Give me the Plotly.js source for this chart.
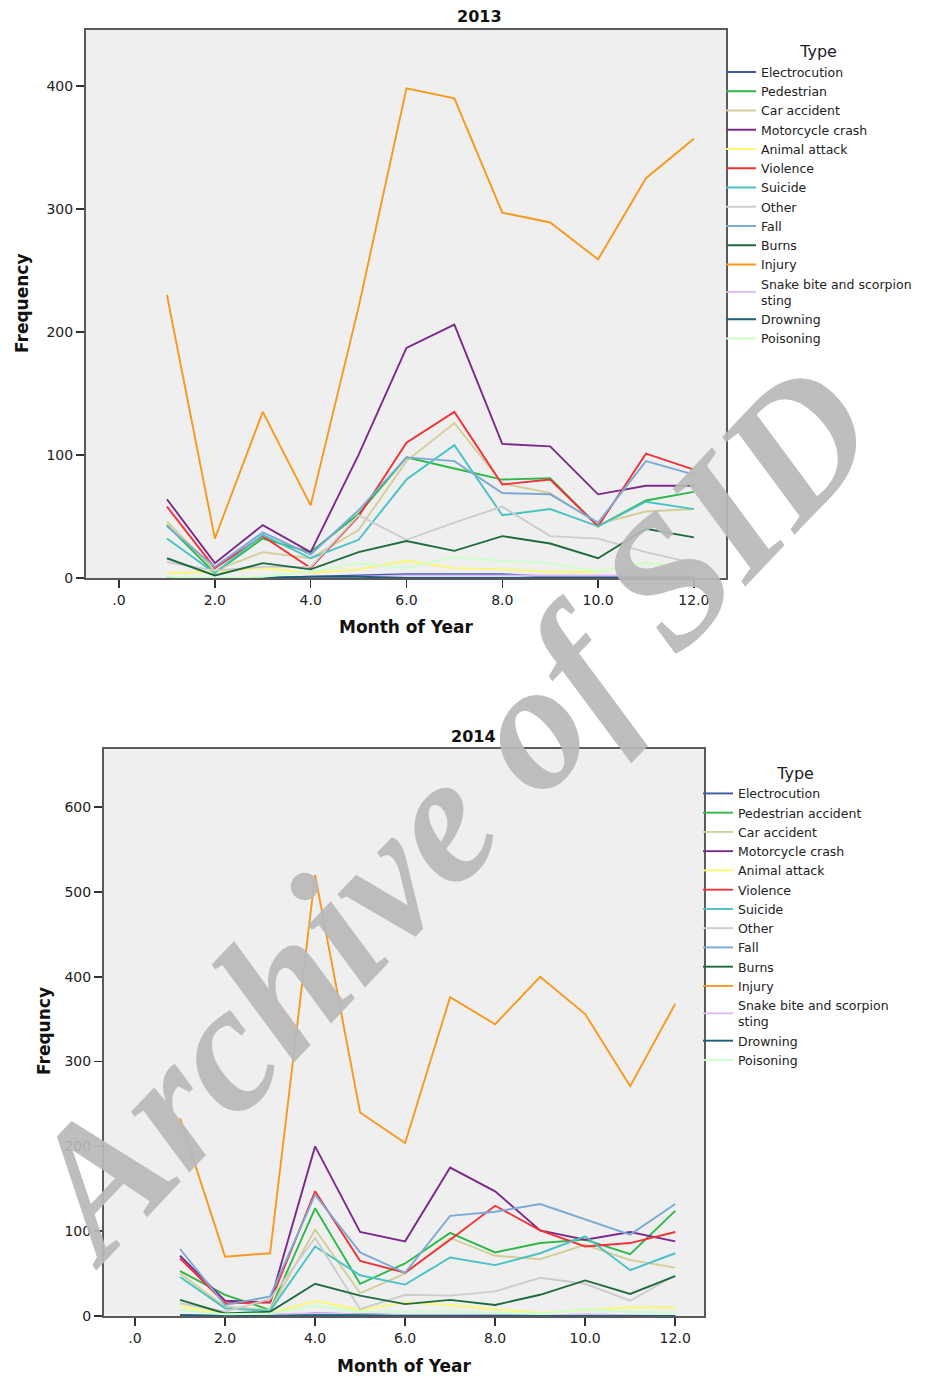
<!DOCTYPE html>
<html>
<head>
<meta charset="utf-8">
<script src="https://cdn.plot.ly/plotly-3.0.1.min.js"></script>
<style>html,body{margin:0;padding:0;background:#fff;} #chart{width:947px;height:1380px;}</style>
</head>
<body>
<div id="chart"></div>
<script>
// ---- categories / labels ----
const months = [1,2,3,4,5,6,7,8,9,10,11,12];
const xTickVals = [0,2,4,6,8,10,12];
const xTickText = [".0","2.0","4.0","6.0","8.0","10.0","12.0"];
const types2013 = ["Electrocution","Pedestrian","Car accident","Motorcycle crash","Animal attack","Violence","Suicide","Other","Fall","Burns","Injury","Snake bite and scorpion<br>sting","Drowning","Poisoning"];
const types2014 = ["Electrocution","Pedestrian accident","Car accident","Motorcycle crash","Animal attack","Violence","Suicide","Other","Fall","Burns","Injury","Snake bite and scorpion<br>sting","Drowning","Poisoning"];
const typeColors = ["#3e58ac","#2eb848","#d3ce97","#7c2a8a","#fbf873","#ef3338","#48c2c5","#cccccc","#7aaad5","#1e6b3e","#f8981d","#ddbaf1","#1a5f76","#ccffcc"];

// ---- 2013 values ----
const electrocution2013 = [0,0,0,1,2,3,3,3,1,1,1,1];
const pedestrian2013    = [43,4,32,21,52,98,89,80,81,42,63,70];
const car2013           = [46,6,21,16,39,95,126,77,69,44,54,56];
const motorcycle2013    = [64,12,43,21,100,187,206,109,107,68,75,75];
const animal2013        = [4,5,8,4,7,14,8,7,5,5,12,9];
const violence2013      = [58,8,34,8,50,110,135,76,80,42,101,88];
const suicide2013       = [32,4,35,16,31,80,108,51,56,42,62,56];
const other2013         = [13,6,9,9,51,31,45,58,34,32,21,12];
const fall2013          = [42,9,37,19,55,98,95,69,68,45,95,84];
const burns2013         = [16,2,12,7,21,30,22,34,28,16,40,33];
const injury2013        = [230,32,135,59,220,398,390,297,289,259,325,357];
const snake2013         = [0,0,0,0,1,2,2,2,2,2,2,2];
const drowning2013      = [0,0,0,1,1,0,0,0,0,0,0,0];
const poisoning2013     = [1,0,1,5,12,8,17,14,12,5,12,9];

// ---- 2014 values ----
const electrocution2014 = [1,0,0,3,2,1,1,1,0,0,0,0];
const pedestrian2014    = [53,25,7,127,38,62,98,75,86,90,73,124];
const car2014           = [50,11,7,102,27,50,92,71,67,84,66,57];
const motorcycle2014    = [71,18,16,200,99,88,175,147,101,90,99,88];
const animal2014        = [11,3,3,18,7,16,13,8,4,7,10,10];
const violence2014      = [68,15,16,147,65,51,90,130,101,82,86,99];
const suicide2014       = [46,9,6,82,48,37,69,60,74,94,54,74];
const other2014         = [15,5,20,92,8,25,24,29,45,38,18,48];
const fall2014          = [79,13,23,143,75,51,118,123,132,114,96,132];
const burns2014         = [19,3,5,38,24,14,19,13,25,42,26,47];
const injury2014        = [233,70,74,520,240,204,376,344,400,356,271,368];
const snake2014         = [0,0,2,3,2,1,1,1,0,2,1,0];
const drowning2014      = [1,0,0,1,1,0,0,0,0,0,0,0];
const poisoning2014     = [7,2,3,12,5,5,5,4,3,8,5,4];

const series2013 = [electrocution2013,pedestrian2013,car2013,motorcycle2013,animal2013,violence2013,suicide2013,other2013,fall2013,burns2013,injury2013,snake2013,drowning2013,poisoning2013];
const series2014 = [electrocution2014,pedestrian2014,car2014,motorcycle2014,animal2014,violence2014,suicide2014,other2014,fall2014,burns2014,injury2014,snake2014,drowning2014,poisoning2014];

const FONT = "DejaVu Sans";
const traces = [];
series2013.forEach((vals,i)=>{
  traces.push({type:"scatter",mode:"lines",x:months,y:vals,name:types2013[i],
    xaxis:"x",yaxis:"y",legend:"legend",line:{color:typeColors[i],width:1.9}});
});
series2014.forEach((vals,i)=>{
  traces.push({type:"scatter",mode:"lines",x:months,y:vals,name:types2014[i],
    xaxis:"x2",yaxis:"y2",legend:"legend2",line:{color:typeColors[i],width:1.9}});
});

const axisCommon = {
  showgrid:false, zeroline:false, showline:true, mirror:true,
  linecolor:"#5a5a5a", linewidth:2, ticks:"outside", ticklen:8, tickwidth:1.5,
  tickcolor:"#333", tickfont:{family:FONT,size:14,color:"#222"}
};
const legendCommon = {
  xanchor:"left", yanchor:"top", bgcolor:"rgba(0,0,0,0)", borderwidth:0,
  itemwidth:30, font:{family:FONT,size:12.5,color:"#222"},
  title:{text:"Type", side:"top center", font:{family:FONT,size:16,color:"#222"}},
  itemclick:false, itemdoubleclick:false
};

const layout = {
  width:947, height:1380, margin:{l:0,r:0,t:0,b:0},
  paper_bgcolor:"#ffffff", plot_bgcolor:"#efefef", showlegend:true,
  xaxis:Object.assign({},axisCommon,{domain:[0.0908,0.7666],range:[-0.69,12.67],anchor:"y",tickvals:xTickVals,ticktext:xTickText}),
  yaxis:Object.assign({},axisCommon,{domain:[0.5812,0.97826],range:[0,445.5],anchor:"x",tickvals:[0,100,200,300,400]}),
  xaxis2:Object.assign({},axisCommon,{domain:[0.1098,0.7434],range:[-0.69,12.64],anchor:"y2",tickvals:xTickVals,ticktext:xTickText}),
  yaxis2:Object.assign({},axisCommon,{domain:[0.04638,0.45725],range:[0,668.6],anchor:"x2",tickvals:[0,100,200,300,400,500,600]}),
  legend:Object.assign({},legendCommon,{x:721/947,y:0.9735}),
  legend2:Object.assign({},legendCommon,{x:698/947,y:1-758/1380}),
  annotations:[
    {text:"2013",xref:"paper",yref:"paper",x:480/947,y:1-17/1380,showarrow:false,xanchor:"center",yanchor:"middle",font:{family:FONT,size:16,color:"#111",weight:"bold"}},
    {text:"2014",xref:"paper",yref:"paper",x:473/947,y:1-736/1380,showarrow:false,xanchor:"center",yanchor:"middle",font:{family:FONT,size:16,color:"#111",weight:"bold"}},
    {text:"Month of Year",xref:"paper",yref:"paper",x:406/947,y:1-627/1380,showarrow:false,xanchor:"center",yanchor:"middle",font:{family:FONT,size:17,color:"#111",weight:"bold"}},
    {text:"Month of Year",xref:"paper",yref:"paper",x:404/947,y:1-1366/1380,showarrow:false,xanchor:"center",yanchor:"middle",font:{family:FONT,size:17,color:"#111",weight:"bold"}},
    {text:"Frequency",xref:"paper",yref:"paper",x:22/947,y:1-303/1380,showarrow:false,textangle:-90,xanchor:"center",yanchor:"middle",font:{family:FONT,size:17,color:"#111",weight:"bold"}},
    {text:"Frequncy",xref:"paper",yref:"paper",x:44/947,y:1-1031/1380,showarrow:false,textangle:-90,xanchor:"center",yanchor:"middle",font:{family:FONT,size:17,color:"#111",weight:"bold"}},
    {text:"Archive of SID",xref:"paper",yref:"paper",x:446/947,y:1-812/1380,showarrow:false,textangle:-46.5,xanchor:"center",yanchor:"middle",
      font:{family:"Liberation Serif",size:183,color:"rgba(185,185,185,0.92)",weight:"bold",style:"italic"}}
  ]
};

Plotly.newPlot("chart", traces, layout, {staticPlot:true, displayModeBar:false});
</script>
</body>
</html>
